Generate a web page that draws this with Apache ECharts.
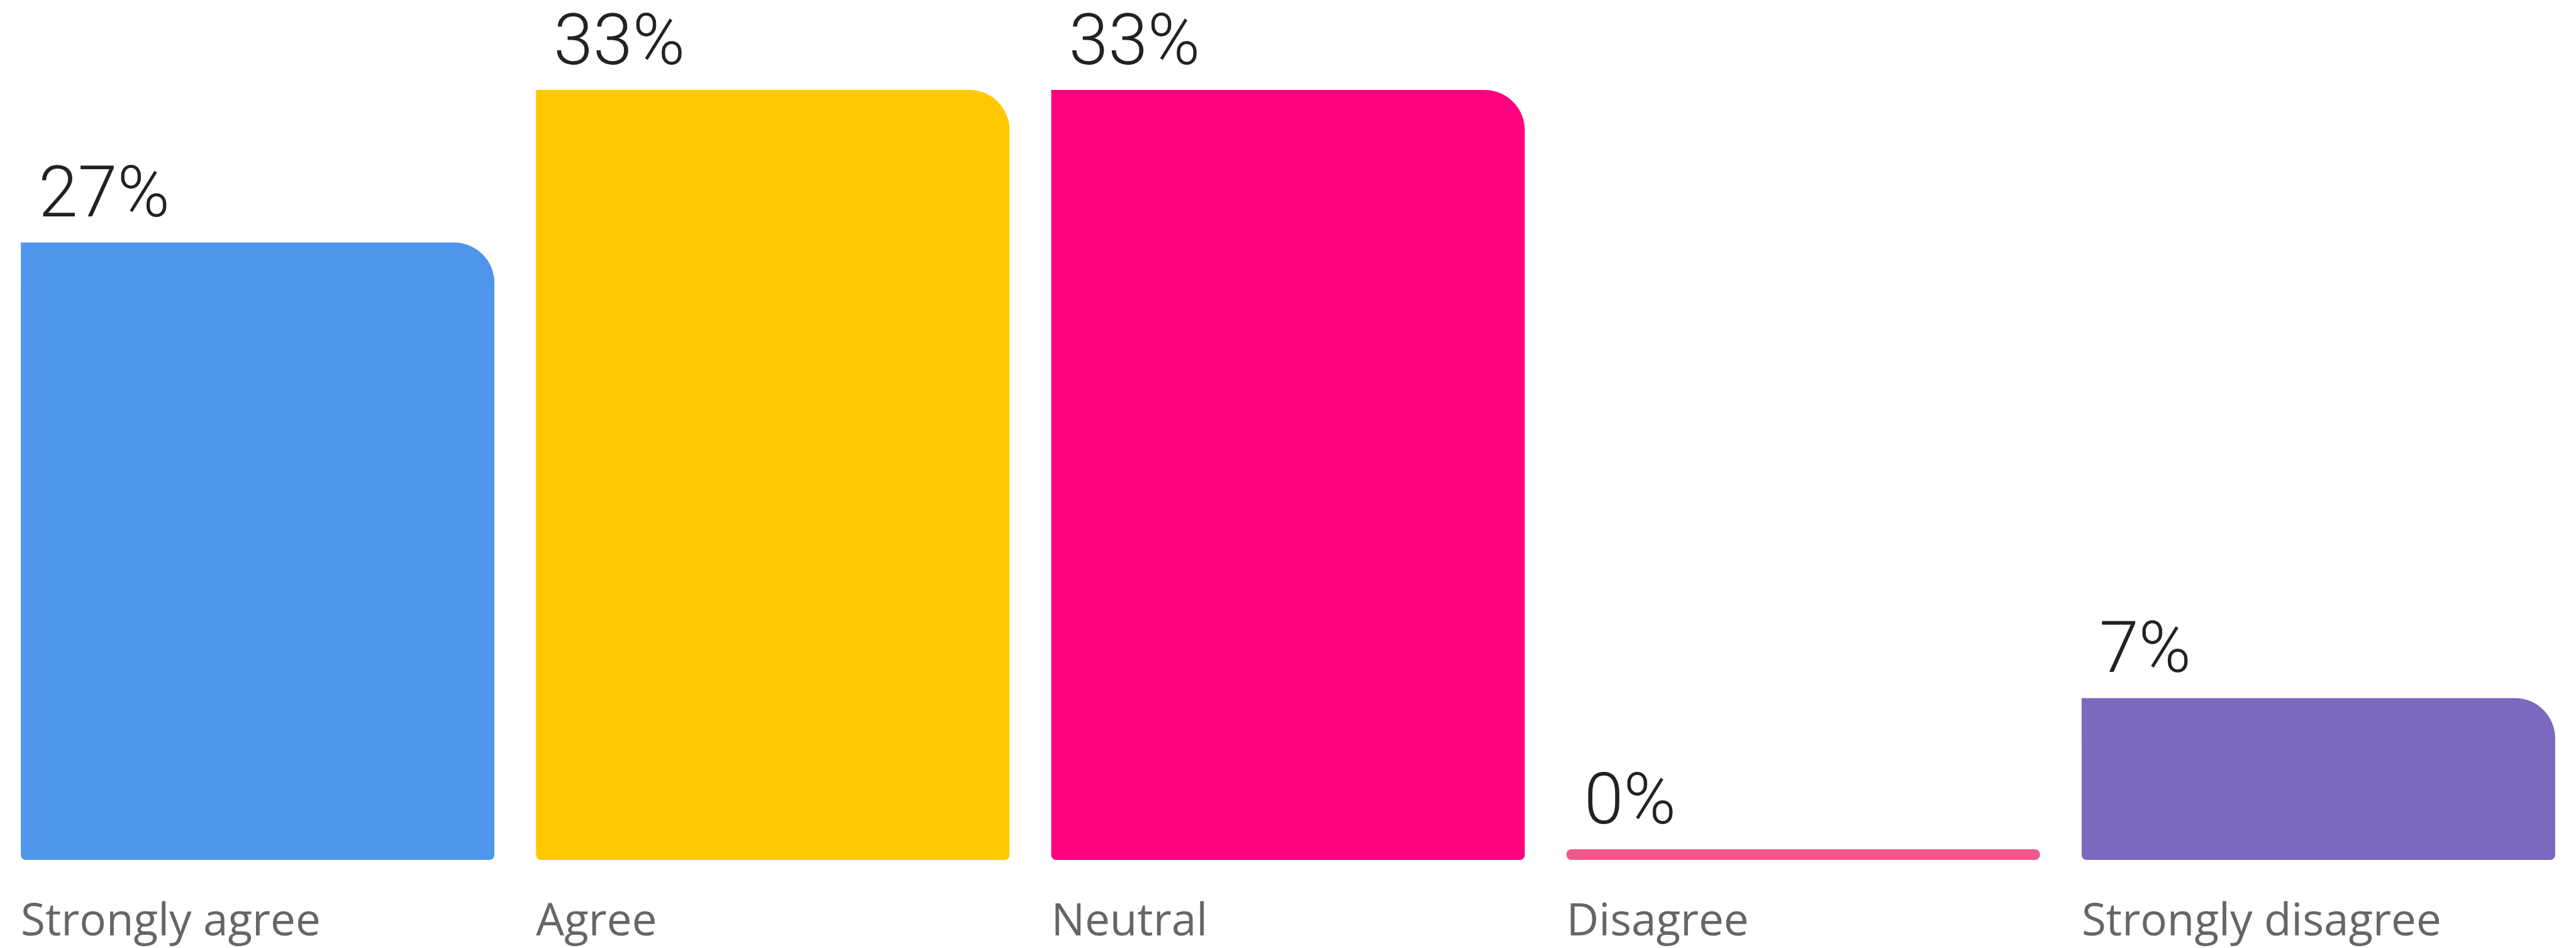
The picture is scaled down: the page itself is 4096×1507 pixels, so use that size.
<!DOCTYPE html>
<html>
<head>
<meta charset="utf-8">
<script src="https://cdn.jsdelivr.net/npm/echarts@6/dist/echarts.min.js"></script>
<style>
html,body{margin:0;padding:0;background:#fff;}
#chart{width:4096px;height:1507px;}
</style>
</head>
<body>
<div id="chart"></div>
<script>
const categories = ['Strongly agree', 'Agree', 'Neutral', 'Disagree', 'Strongly disagree'];
const values = [26.7, 33.3, 33.3, 0, 7];
const colors = ['#4E95EB', '#FFC901', '#FF0080', '#F0588E', '#7C68BE'];

const chart = echarts.init(document.getElementById('chart'), null, {renderer: 'canvas'});
const data = values.map((v, i) => ({
  value: v,
  itemStyle: {
    color: colors[i],
    borderRadius: v === 0 ? 8 : [0, 64, 8, 8]
  }
}));
chart.setOption({
  animation: false,
  backgroundColor: '#ffffff',
  grid: {left: -7, right: -9, top: 143, bottom: 140, containLabel: false},
  xAxis: {
    type: 'category',
    data: categories,
    axisLine: {show: false},
    axisTick: {show: false},
    axisLabel: {
      interval: 0,
      margin: 64,
      align: 'center',
      verticalAlign: 'top',
      formatter: (v) => '{a|' + v + '}',
      rich: {
        a: {
          width: 753,
          align: 'left',
          fontFamily: 'Open Sans',
          fontSize: 71,
          color: '#666666'
        }
      }
    }
  },
  yAxis: {
    type: 'value',
    min: 0,
    max: 33.3,
    show: false,
    splitLine: {show: false}
  },
  series: [{
    type: 'bar',
    data: data,
    barWidth: 753,
    barMinHeight: 17,
    label: {
      show: true,
      position: [28, -13],
      align: 'left',
      verticalAlign: 'bottom',
      fontFamily: 'Roboto',
      fontWeight: 300,
      fontSize: 113,
      color: '#222222',
      formatter: (p) => Math.round(p.value) + '%'
    }
  }]
});
</script>
</body>
</html>
